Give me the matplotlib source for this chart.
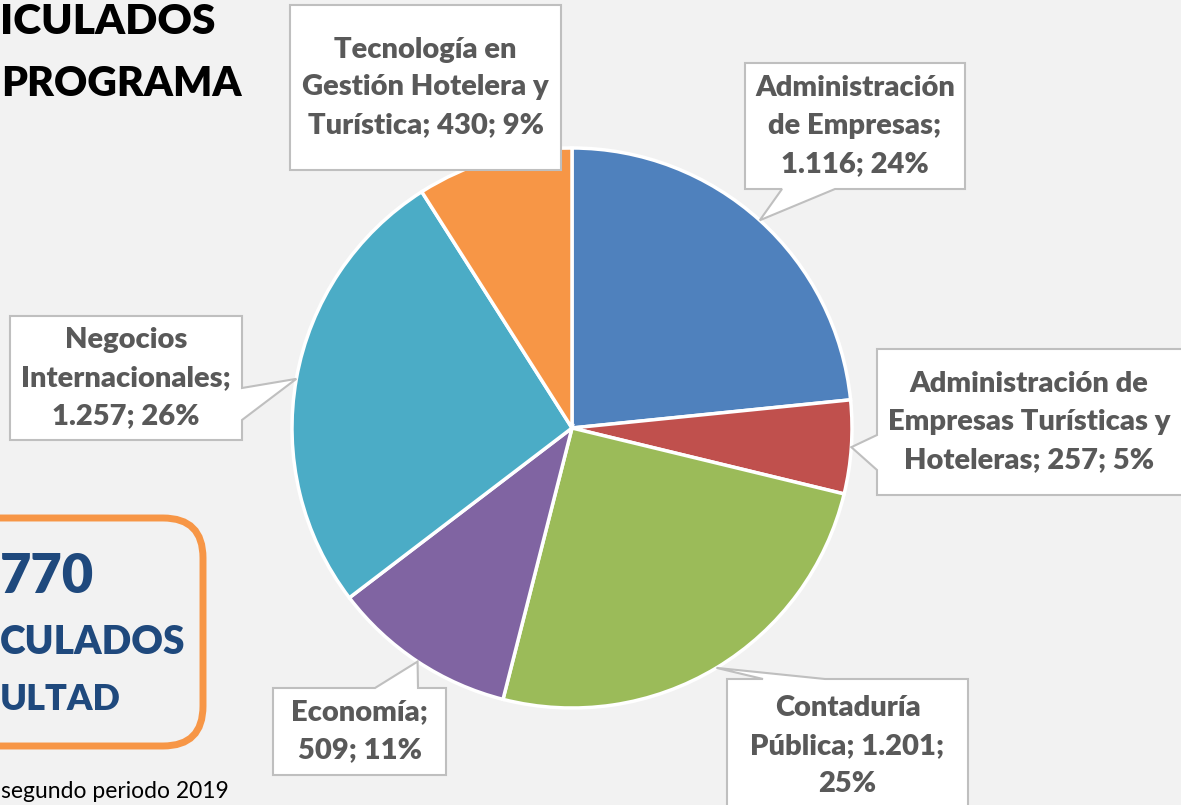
import numpy as np
import matplotlib.pyplot as plt
from matplotlib.patches import Polygon, FancyBboxPatch

plt.rcParams['font.family'] = ['Lato', 'DejaVu Sans']

programas = ["Administración\nde Empresas;\n1.116; 24%",
             "Administración de\nEmpresas Turísticas y\nHoteleras; 257; 5%",
             "Contaduría\nPública; 1.201;\n25%",
             "Economía;\n509; 11%",
             "Negocios\nInternacionales;\n1.257; 26%",
             "Tecnología en\nGestión Hotelera y\nTurística; 430; 9%"]
matriculados = [1116, 257, 1201, 509, 1257, 430]
colores = ["#4f81bd", "#c0504d", "#9bbb59", "#8064a2", "#4bacc6", "#f79646"]

W, H = 1181, 805
bg = "#f2f2f2"
gris = "#595959"
azul = "#1f497d"

fig = plt.figure(figsize=(W / 100, H / 100), dpi=100, facecolor=bg)
ax = fig.add_axes([0, 0, 1, 1])
ax.set_xlim(0, W)
ax.set_ylim(0, H)
ax.axis("off")

def Y(py):
    return H - py

# pie (pixel layout)
cx, cy, R = 572, 428, 280
ax.pie(matriculados, colors=colores, startangle=90, counterclock=False,
       center=(cx, Y(cy)), radius=R,
       wedgeprops=dict(edgecolor="white", linewidth=2.5))
ax.set_xlim(0, W)
ax.set_ylim(0, H)

# tip of each callout = mid angle of its wedge
total = sum(matriculados)
acum = np.cumsum([0] + matriculados)
mid = (acum[:-1] + acum[1:]) / 2 / total * 2 * np.pi
tips = [(cx + R * np.sin(t), cy - R * np.cos(t)) for t in mid]

# box: x0, y0, x1, y1 (screen px), edge of tail, tail base
cajas = [
    (745, 63, 965, 189, "bottom", 782, 835),
    (877, 349, 1195, 495, "left", 435, 470),
    (727, 679, 968, 820, "top", 763, 825),
    (273, 688, 446, 775, "top", 375, 418),
    (10, 316, 242, 440, "right", 388, 420),
    (290, 5, 561, 170, None, 0, 0),
]

for (x0, y0, x1, y1, edge, b0, b1), tip, txt in zip(cajas, tips, programas):
    pts = [(x0, y0)]
    if edge == "top":
        pts += [(b0, y0), tip, (b1, y0)]
    pts += [(x1, y0)]
    if edge == "right":
        pts += [(x1, b0), tip, (x1, b1)]
    pts += [(x1, y1)]
    if edge == "bottom":
        pts += [(b1, y1), tip, (b0, y1)]
    pts += [(x0, y1)]
    if edge == "left":
        pts += [(x0, b1), tip, (x0, b0)]
    pts = [(px, Y(py)) for px, py in pts]
    ax.add_patch(Polygon(pts, closed=True, facecolor="white",
                         edgecolor="#bfbfbf", linewidth=1.5, zorder=5))
    tx = (x0 + min(x1, W)) / 2
    ty = (y0 + y1) / 2 if y1 < H else (y0 + 805 + 8) / 2
    ax.text(tx, Y(ty), txt, ha="center", va="center", fontsize=21,
            fontweight="heavy", color=gris, linespacing=1.56, zorder=6)

# title (only the part inside the crop)
ax.text(0, Y(22), "ICULADOS", ha="left", va="center", fontsize=30.5,
        fontweight="heavy", color="black")
ax.text(1, Y(84), "PROGRAMA", ha="left", va="center", fontsize=29.5,
        fontweight="heavy", color="black")

# total box
ax.add_patch(FancyBboxPatch((-200, Y(746)), 403, 228,
                            boxstyle="round,pad=0,rounding_size=40",
                            facecolor="none", edgecolor="#f79646", linewidth=5))
ax.text(0, Y(577), "770", ha="left", va="center", fontsize=39,
        fontweight="heavy", color=azul)
ax.text(0, Y(643), "CULADOS", ha="left", va="center", fontsize=28,
        fontweight="heavy", color=azul)
ax.text(0, Y(700), "ULTAD", ha="left", va="center", fontsize=26,
        fontweight="heavy", color=azul)

ax.text(1, Y(781), "segundo periodo 2019", ha="left", va="top", fontsize=16.5,
        color="black")

fig.savefig("out.png", dpi=100, facecolor=bg)
